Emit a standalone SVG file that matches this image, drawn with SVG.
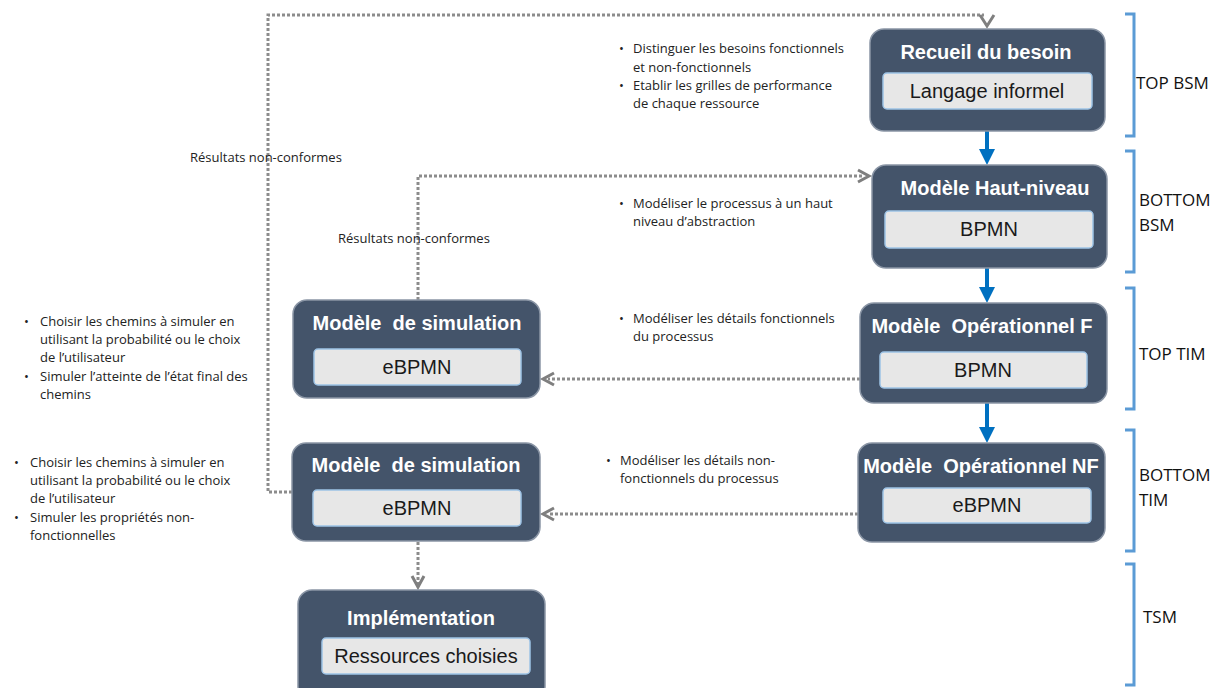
<svg xmlns="http://www.w3.org/2000/svg" width="1222" height="688" viewBox="0 0 1222 688">
<defs>
<style>
.node{fill:#44546a;stroke:#8a95a5;stroke-width:1.5}
.inner{fill:#e7e7e7;stroke:#9dc3e6;stroke-width:1.5}
.title{font-family:"Liberation Sans",Arial,sans-serif;font-weight:bold;font-size:20px;fill:#ffffff;text-anchor:middle;white-space:pre}
.sub{font-family:"Liberation Sans",Arial,sans-serif;font-size:20px;fill:#1a1a1a;text-anchor:middle}
.note{font-family:"Open Sans","Liberation Sans",sans-serif;font-size:13px;fill:#222222}
.lbl{font-family:"Open Sans","Liberation Sans",sans-serif;font-size:17px;fill:#111111}
.brk{fill:none;stroke:#5b9bd5;stroke-width:3}
.dot{fill:none;stroke:#8c8c8c;stroke-width:3;stroke-dasharray:3 2}
.chev{fill:none;stroke:#7f7f7f;stroke-width:3}
.blue{stroke:#0070c0;stroke-width:4;fill:none}
</style>
<marker id="bh" markerWidth="4" markerHeight="4" refX="2" refY="2" orient="auto" markerUnits="strokeWidth">
<path d="M0,0 L4,2 L0,4 z" fill="#0070c0"/>
</marker>
</defs>

<g id="connectors">
<line class="blue" x1="987" y1="131" x2="987" y2="157" marker-end="url(#bh)"/>
<line class="blue" x1="987" y1="268" x2="987" y2="295" marker-end="url(#bh)"/>
<line class="blue" x1="987" y1="403" x2="987" y2="435" marker-end="url(#bh)"/>
<polyline class="dot" points="292,492 268,492 268,15 984,15"/>
<polyline class="chev" points="980,15 987,26 994,15"/>
<polyline class="dot" points="418,300 418,176 864,176"/>
<polyline class="chev" points="858,170 869,176 858,182"/>
<line class="dot" x1="860" y1="379" x2="548" y2="379"/>
<polyline class="chev" points="554,373 543,379 554,385"/>
<line class="dot" x1="858" y1="514" x2="548" y2="514"/>
<polyline class="chev" points="554,508 543,514 554,520"/>
<line class="dot" x1="418" y1="542" x2="418" y2="584"/>
<polyline class="chev" points="412,576 418,587 424,576"/>
</g>

<g id="brackets">
<polyline class="brk" points="1125,14 1134,14 1134,136 1125,136"/>
<polyline class="brk" points="1125,151 1134,151 1134,272 1125,272"/>
<polyline class="brk" points="1125,288 1134,288 1134,409 1125,409"/>
<polyline class="brk" points="1125,430 1134,430 1134,551 1125,551"/>
<polyline class="brk" points="1125,564 1134,564 1134,685 1125,685"/>
<text class="lbl" x="1136" y="89">TOP BSM</text>
<text class="lbl" x="1139" y="206">BOTTOM</text>
<text class="lbl" x="1139" y="231">BSM</text>
<text class="lbl" x="1139" y="360">TOP TIM</text>
<text class="lbl" x="1139" y="481">BOTTOM</text>
<text class="lbl" x="1139" y="506">TIM</text>
<text class="lbl" x="1143" y="623">TSM</text>
</g>

<g id="n-recueil">
<rect class="node" x="870" y="29" width="235" height="102" rx="14"/>
<text class="title" x="986" y="59">Recueil du besoin</text>
<rect class="inner" x="883" y="73" width="209" height="36" rx="4"/>
<text class="sub" x="987" y="98">Langage informel</text>
</g>

<g id="n-haut">
<rect class="node" x="872" y="165" width="235" height="103" rx="14"/>
<text class="title" x="995" y="195">Modèle Haut-niveau</text>
<rect class="inner" x="885" y="211" width="208" height="37" rx="4"/>
<text class="sub" x="989" y="236">BPMN</text>
</g>

<g id="n-opf">
<rect class="node" x="860" y="303" width="247" height="100" rx="14"/>
<text class="title" x="982" y="333" xml:space="preserve">Modèle  Opérationnel F</text>
<rect class="inner" x="880" y="352" width="207" height="36" rx="4"/>
<text class="sub" x="983" y="377">BPMN</text>
</g>

<g id="n-opnf">
<rect class="node" x="858" y="443" width="247" height="99" rx="14"/>
<text class="title" x="981" y="473" xml:space="preserve">Modèle  Opérationnel NF</text>
<rect class="inner" x="883" y="488" width="208" height="35" rx="4"/>
<text class="sub" x="987" y="512">eBPMN</text>
</g>

<g id="n-sim1">
<rect class="node" x="293" y="300" width="247" height="98" rx="14"/>
<text class="title" x="417" y="330" xml:space="preserve">Modèle  de simulation</text>
<rect class="inner" x="314" y="349" width="207" height="36" rx="4"/>
<text class="sub" x="417" y="374">eBPMN</text>
</g>

<g id="n-sim2">
<rect class="node" x="292" y="443" width="248" height="98" rx="14"/>
<text class="title" x="416" y="472" xml:space="preserve">Modèle  de simulation</text>
<rect class="inner" x="313" y="490" width="208" height="36" rx="4"/>
<text class="sub" x="417" y="515">eBPMN</text>
</g>

<g id="n-impl">
<rect class="node" x="298" y="590" width="247" height="110" rx="14"/>
<text class="title" x="421" y="625">Implémentation</text>
<rect class="inner" x="322" y="638" width="208" height="36" rx="4"/>
<text class="sub" x="426" y="663">Ressources choisies</text>
</g>

<g id="notes">
<text class="note" x="619" y="53">•</text>
<text class="note" x="633" y="53">Distinguer les besoins fonctionnels</text>
<text class="note" x="633" y="72">et non-fonctionnels</text>
<text class="note" x="619" y="90">•</text>
<text class="note" x="633" y="90">Etablir les grilles de performance</text>
<text class="note" x="633" y="108">de chaque ressource</text>

<text class="note" x="619" y="208">•</text>
<text class="note" x="633" y="208">Modéliser le processus à un haut</text>
<text class="note" x="633" y="226">niveau d’abstraction</text>

<text class="note" x="619" y="323">•</text>
<text class="note" x="633" y="323">Modéliser les détails fonctionnels</text>
<text class="note" x="633" y="341">du processus</text>

<text class="note" x="606" y="465">•</text>
<text class="note" x="620" y="465">Modéliser les détails non-</text>
<text class="note" x="620" y="483">fonctionnels du processus</text>

<text class="note" x="24" y="326">•</text>
<text class="note" x="40" y="326">Choisir les chemins à simuler en</text>
<text class="note" x="40" y="344">utilisant la probabilité ou le choix</text>
<text class="note" x="40" y="362">de l’utilisateur</text>
<text class="note" x="24" y="381">•</text>
<text class="note" x="40" y="381">Simuler l’atteinte de l’état final des</text>
<text class="note" x="40" y="399">chemins</text>

<text class="note" x="14" y="467">•</text>
<text class="note" x="30" y="467">Choisir les chemins à simuler en</text>
<text class="note" x="30" y="485">utilisant la probabilité ou le choix</text>
<text class="note" x="30" y="503">de l’utilisateur</text>
<text class="note" x="14" y="522">•</text>
<text class="note" x="30" y="522">Simuler les propriétés non-</text>
<text class="note" x="30" y="540">fonctionnelles</text>

<text class="note" x="190" y="162">Résultats non-conformes</text>
<text class="note" x="338" y="243">Résultats non-conformes</text>
</g>
</svg>
